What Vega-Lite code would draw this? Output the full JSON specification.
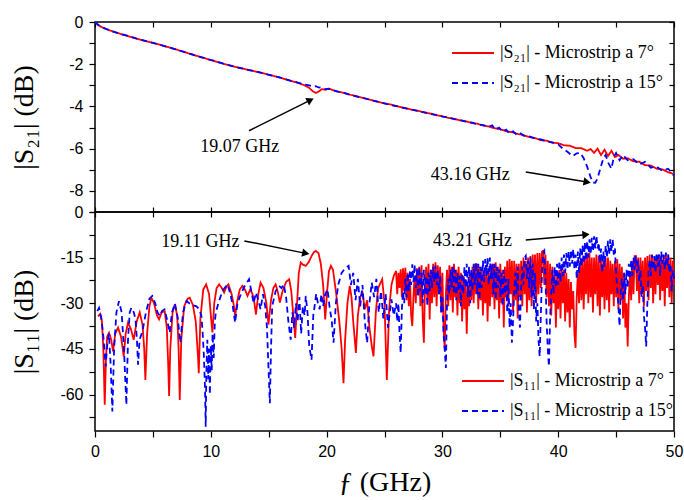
{
"$schema": "https://vega.github.io/schema/vega-lite/v6.json",
"padding": {"left": 9, "top": 13, "right": 5, "bottom": 0},
"background": "white",
"spacing": 0,
"bounds": "flush",
"datasets": {
"s21r": [{"f":0,"v":0},{"f":0.3,"v":-0.15},{"f":0.6,"v":-0.25},{"f":1,"v":-0.34},{"f":1.5,"v":-0.44},{"f":2,"v":-0.53},{"f":3,"v":-0.69},{"f":4,"v":-0.85},{"f":5,"v":-0.99},{"f":6,"v":-1.14},{"f":7,"v":-1.3},{"f":8,"v":-1.47},{"f":9,"v":-1.64},{"f":10,"v":-1.8},{"f":11,"v":-1.96},{"f":12,"v":-2.11},{"f":13,"v":-2.24},{"f":14,"v":-2.36},{"f":15,"v":-2.5},{"f":16,"v":-2.64},{"f":17,"v":-2.8},{"f":17.6,"v":-2.9},{"f":18.1,"v":-3.0},{"f":18.5,"v":-3.12},{"f":18.8,"v":-3.28},{"f":19.07,"v":-3.36},{"f":19.3,"v":-3.3},{"f":19.6,"v":-3.18},{"f":19.9,"v":-3.21},{"f":20.2,"v":-3.16},{"f":20.6,"v":-3.24},{"f":21,"v":-3.3},{"f":21.5,"v":-3.36},{"f":22,"v":-3.44},{"f":23,"v":-3.58},{"f":24,"v":-3.72},{"f":25,"v":-3.86},{"f":25.5,"v":-3.9},{"f":26,"v":-3.98},{"f":26.5,"v":-4.05},{"f":27,"v":-4.1},{"f":27.5,"v":-4.17},{"f":28,"v":-4.22},{"f":28.5,"v":-4.3},{"f":29,"v":-4.34},{"f":29.5,"v":-4.42},{"f":30,"v":-4.46},{"f":30.5,"v":-4.54},{"f":31,"v":-4.58},{"f":31.5,"v":-4.66},{"f":32,"v":-4.7},{"f":32.5,"v":-4.78},{"f":33,"v":-4.82},{"f":33.5,"v":-4.9},{"f":34,"v":-4.95},{"f":34.5,"v":-5.03},{"f":35,"v":-5.08},{"f":35.5,"v":-5.17},{"f":36,"v":-5.22},{"f":36.5,"v":-5.3},{"f":37,"v":-5.36},{"f":37.5,"v":-5.45},{"f":38,"v":-5.5},{"f":38.5,"v":-5.6},{"f":39,"v":-5.62},{"f":39.5,"v":-5.72},{"f":40,"v":-5.74},{"f":40.5,"v":-5.84},{"f":41,"v":-5.86},{"f":41.5,"v":-5.97},{"f":42,"v":-5.98},{"f":42.5,"v":-6.1},{"f":42.8,"v":-6.02},{"f":43.1,"v":-6.2},{"f":43.4,"v":-6.0},{"f":43.7,"v":-6.3},{"f":44,"v":-6.05},{"f":44.3,"v":-6.35},{"f":44.6,"v":-6.1},{"f":44.9,"v":-6.4},{"f":45.2,"v":-6.3},{"f":45.6,"v":-6.48},{"f":46,"v":-6.45},{"f":46.5,"v":-6.6},{"f":47,"v":-6.62},{"f":47.5,"v":-6.78},{"f":48,"v":-6.8},{"f":48.5,"v":-6.95},{"f":49,"v":-6.98},{"f":49.5,"v":-7.12},{"f":50,"v":-7.2}],
"s21b": [{"f":0,"v":0},{"f":0.3,"v":-0.15},{"f":0.6,"v":-0.25},{"f":1,"v":-0.34},{"f":1.5,"v":-0.44},{"f":2,"v":-0.53},{"f":3,"v":-0.69},{"f":4,"v":-0.85},{"f":5,"v":-0.99},{"f":6,"v":-1.14},{"f":7,"v":-1.3},{"f":8,"v":-1.47},{"f":9,"v":-1.64},{"f":10,"v":-1.8},{"f":11,"v":-1.96},{"f":12,"v":-2.11},{"f":13,"v":-2.24},{"f":14,"v":-2.36},{"f":15,"v":-2.5},{"f":16,"v":-2.64},{"f":17,"v":-2.8},{"f":17.6,"v":-2.88},{"f":18.1,"v":-2.96},{"f":18.5,"v":-3.0},{"f":18.8,"v":-3.06},{"f":19.07,"v":-3.04},{"f":19.3,"v":-3.1},{"f":19.6,"v":-3.12},{"f":19.9,"v":-3.18},{"f":20.2,"v":-3.16},{"f":20.6,"v":-3.24},{"f":21,"v":-3.3},{"f":21.5,"v":-3.36},{"f":22,"v":-3.44},{"f":23,"v":-3.58},{"f":24,"v":-3.72},{"f":25,"v":-3.86},{"f":25.5,"v":-3.93},{"f":26,"v":-3.98},{"f":26.5,"v":-4.04},{"f":27,"v":-4.12},{"f":27.5,"v":-4.16},{"f":28,"v":-4.24},{"f":28.5,"v":-4.28},{"f":29,"v":-4.36},{"f":29.5,"v":-4.4},{"f":30,"v":-4.48},{"f":30.5,"v":-4.52},{"f":31,"v":-4.6},{"f":31.5,"v":-4.64},{"f":32,"v":-4.72},{"f":32.5,"v":-4.76},{"f":33,"v":-4.84},{"f":33.5,"v":-4.88},{"f":34,"v":-4.97},{"f":34.3,"v":-4.9},{"f":34.6,"v":-5.1},{"f":34.9,"v":-5.0},{"f":35.2,"v":-5.2},{"f":35.5,"v":-5.1},{"f":35.8,"v":-5.28},{"f":36.1,"v":-5.18},{"f":36.4,"v":-5.33},{"f":36.7,"v":-5.25},{"f":37,"v":-5.38},{"f":37.5,"v":-5.42},{"f":38,"v":-5.52},{"f":38.5,"v":-5.56},{"f":39,"v":-5.66},{"f":39.5,"v":-5.7},{"f":40,"v":-5.8},{"f":40.4,"v":-6.0},{"f":40.8,"v":-6.15},{"f":41.25,"v":-6.35},{"f":41.6,"v":-6.22},{"f":41.9,"v":-6.2},{"f":42.2,"v":-6.45},{"f":42.5,"v":-6.85},{"f":42.8,"v":-7.35},{"f":43.0,"v":-7.6},{"f":43.2,"v":-7.62},{"f":43.4,"v":-7.4},{"f":43.7,"v":-6.82},{"f":43.9,"v":-6.45},{"f":44.1,"v":-6.3},{"f":44.3,"v":-6.65},{"f":44.6,"v":-6.95},{"f":44.8,"v":-6.4},{"f":45.0,"v":-6.2},{"f":45.3,"v":-6.55},{"f":45.6,"v":-6.3},{"f":46,"v":-6.55},{"f":46.5,"v":-6.5},{"f":47,"v":-6.75},{"f":47.5,"v":-6.62},{"f":48,"v":-6.9},{"f":48.5,"v":-6.85},{"f":49,"v":-7.05},{"f":49.5,"v":-6.95},{"f":50,"v":-7.28}],
"s11r": [{"f":0.26,"v":-34.3},{"f":0.45,"v":-33.5},{"f":0.6,"v":-36},{"f":0.72,"v":-45},{"f":0.84,"v":-63.4},{"f":0.95,"v":-48},{"f":1.05,"v":-41},{"f":1.21,"v":-39.7},{"f":1.4,"v":-42},{"f":1.56,"v":-45.8},{"f":1.75,"v":-40},{"f":1.99,"v":-38},{"f":2.25,"v":-41},{"f":2.48,"v":-47.5},{"f":2.65,"v":-40},{"f":2.85,"v":-36.4},{"f":3.1,"v":-38.5},{"f":3.34,"v":-42},{"f":3.6,"v":-36},{"f":3.86,"v":-33},{"f":4.1,"v":-37},{"f":4.25,"v":-45},{"f":4.35,"v":-55.2},{"f":4.5,"v":-40},{"f":4.7,"v":-31},{"f":4.87,"v":-28.2},{"f":5.1,"v":-30},{"f":5.35,"v":-34},{"f":5.53,"v":-35.3},{"f":5.75,"v":-33},{"f":6.02,"v":-32.6},{"f":6.2,"v":-38},{"f":6.32,"v":-50},{"f":6.4,"v":-60.5},{"f":6.5,"v":-45},{"f":6.7,"v":-33},{"f":6.89,"v":-30.4},{"f":7.1,"v":-34},{"f":7.22,"v":-45},{"f":7.32,"v":-61.8},{"f":7.45,"v":-42},{"f":7.7,"v":-31},{"f":8.0,"v":-28.5},{"f":8.18,"v":-28.2},{"f":8.45,"v":-30.5},{"f":8.7,"v":-36},{"f":8.9,"v":-48},{"f":8.96,"v":-53},{"f":9.1,"v":-35},{"f":9.35,"v":-25.5},{"f":9.6,"v":-23.8},{"f":9.85,"v":-27},{"f":10.05,"v":-36},{"f":10.14,"v":-39.6},{"f":10.3,"v":-30},{"f":10.5,"v":-25},{"f":10.72,"v":-23.8},{"f":10.95,"v":-25},{"f":11.15,"v":-26.5},{"f":11.35,"v":-24.5},{"f":11.52,"v":-23.8},{"f":11.8,"v":-27},{"f":12.0,"v":-31},{"f":12.1,"v":-34.2},{"f":12.3,"v":-29},{"f":12.5,"v":-25.5},{"f":12.73,"v":-24.3},{"f":12.95,"v":-25.5},{"f":13.17,"v":-27.6},{"f":13.4,"v":-25.5},{"f":13.6,"v":-27},{"f":13.75,"v":-29.5},{"f":13.9,"v":-33.7},{"f":14.1,"v":-27},{"f":14.3,"v":-23.2},{"f":14.55,"v":-25},{"f":14.8,"v":-30},{"f":14.98,"v":-37},{"f":15.2,"v":-29},{"f":15.4,"v":-25},{"f":15.6,"v":-23.8},{"f":15.8,"v":-26.5},{"f":15.96,"v":-29.8},{"f":16.2,"v":-26},{"f":16.5,"v":-23},{"f":16.77,"v":-22.1},{"f":16.95,"v":-26},{"f":17.15,"v":-35},{"f":17.29,"v":-41.4},{"f":17.45,"v":-30},{"f":17.6,"v":-20},{"f":17.77,"v":-16.6},{"f":17.95,"v":-17.3},{"f":18.2,"v":-17.7},{"f":18.45,"v":-16.5},{"f":18.7,"v":-14.5},{"f":18.9,"v":-13.2},{"f":19.07,"v":-12.8},{"f":19.3,"v":-13.5},{"f":19.5,"v":-17},{"f":19.7,"v":-24},{"f":19.88,"v":-35.3},{"f":20.05,"v":-26},{"f":20.2,"v":-19.5},{"f":20.37,"v":-17.7},{"f":20.55,"v":-19},{"f":20.8,"v":-26},{"f":21.1,"v":-36},{"f":21.3,"v":-45},{"f":21.46,"v":-56.3},{"f":21.6,"v":-42},{"f":21.8,"v":-30},{"f":22.0,"v":-24.3},{"f":22.15,"v":-28},{"f":22.3,"v":-36},{"f":22.53,"v":-46.3},{"f":22.7,"v":-34},{"f":22.9,"v":-28},{"f":23.1,"v":-26.5},{"f":23.3,"v":-32},{"f":23.5,"v":-29},{"f":23.7,"v":-38},{"f":23.9,"v":-44},{"f":24.05,"v":-47.5},{"f":24.25,"v":-33},{"f":24.45,"v":-25},{"f":24.8,"v":-22.1},{"f":25.0,"v":-30},{"f":25.2,"v":-55.2},{"f":25.4,"v":-32},{"f":25.6,"v":-24},{"f":25.8,"v":-21},
{"f":26.0,"v":-19.4},{"f":26.1,"v":-27},{"f":26.2,"v":-20},{"f":26.3,"v":-25},{"f":26.4,"v":-18.8},{"f":26.5,"v":-28},{"f":26.6,"v":-18.5},{"f":26.7,"v":-26},{"f":26.8,"v":-18.3},{"f":26.9,"v":-29},{"f":27.0,"v":-20},{"f":27.1,"v":-31},{"f":27.2,"v":-22},{"f":27.3,"v":-34},{"f":27.4,"v":-37.5},{"f":27.5,"v":-28},{"f":27.6,"v":-21},{"f":27.7,"v":-30},{"f":27.8,"v":-18.5},{"f":27.9,"v":-27},{"f":28.0,"v":-18},{"f":28.1,"v":-31},{"f":28.2,"v":-17.5},{"f":28.3,"v":-35},{"f":28.4,"v":-43},{"f":28.5,"v":-24},{"f":28.6,"v":-18},{"f":28.7,"v":-29},{"f":28.8,"v":-17},{"f":28.9,"v":-35.3},{"f":29.0,"v":-19},{"f":29.1,"v":-30},{"f":29.2,"v":-17},{"f":29.3,"v":-28},{"f":29.4,"v":-16.5},{"f":29.5,"v":-31},{"f":29.6,"v":-17.5},{"f":29.7,"v":-27},{"f":29.8,"v":-18},{"f":29.9,"v":-33},{"f":30.0,"v":-20},{"f":30.1,"v":-38},{"f":30.2,"v":-45.3},{"f":30.3,"v":-27},{"f":30.4,"v":-19},{"f":30.5,"v":-31},{"f":30.6,"v":-17.5},{"f":30.7,"v":-29},{"f":30.8,"v":-18},{"f":30.9,"v":-33},{"f":31.0,"v":-17},{"f":31.1,"v":-28},{"f":31.2,"v":-19},{"f":31.3,"v":-34},{"f":31.4,"v":-18},{"f":31.5,"v":-30},{"f":31.6,"v":-20},{"f":31.7,"v":-36},{"f":31.8,"v":-21},{"f":31.9,"v":-32},{"f":32.0,"v":-22},{"f":32.1,"v":-40},{"f":32.2,"v":-24},{"f":32.3,"v":-31},{"f":32.4,"v":-20},{"f":32.5,"v":-29},{"f":32.6,"v":-18},{"f":32.7,"v":-30},{"f":32.8,"v":-17},{"f":32.9,"v":-27},{"f":33.0,"v":-17},{"f":33.1,"v":-32},{"f":33.2,"v":-18},{"f":33.3,"v":-29},{"f":33.4,"v":-19},{"f":33.5,"v":-34},{"f":33.6,"v":-20},{"f":33.7,"v":-30},{"f":33.8,"v":-18},{"f":33.9,"v":-36},{"f":34.0,"v":-19},{"f":34.1,"v":-31},{"f":34.2,"v":-17.5},{"f":34.3,"v":-28},{"f":34.4,"v":-17},{"f":34.5,"v":-32},{"f":34.6,"v":-16.5},{"f":34.7,"v":-29},{"f":34.8,"v":-18},{"f":34.9,"v":-35},{"f":35.0,"v":-17},{"f":35.1,"v":-30},{"f":35.2,"v":-19},{"f":35.3,"v":-38},{"f":35.4,"v":-18},{"f":35.5,"v":-28},{"f":35.6,"v":-16},{"f":35.7,"v":-31},{"f":35.8,"v":-15.5},{"f":35.9,"v":-27},{"f":36.0,"v":-16},{"f":36.1,"v":-33},{"f":36.2,"v":-16},{"f":36.3,"v":-29},{"f":36.4,"v":-17},{"f":36.5,"v":-35},{"f":36.6,"v":-17},{"f":36.7,"v":-28},{"f":36.8,"v":-16},{"f":36.9,"v":-31},{"f":37.0,"v":-15},{"f":37.1,"v":-27},{"f":37.2,"v":-16},{"f":37.3,"v":-33},{"f":37.4,"v":-15},{"f":37.5,"v":-29},{"f":37.6,"v":-14.5},{"f":37.7,"v":-31},{"f":37.8,"v":-14},{"f":37.9,"v":-26},{"f":38.0,"v":-14},{"f":38.1,"v":-30},{"f":38.2,"v":-13.5},{"f":38.3,"v":-27},{"f":38.4,"v":-13.5},{"f":38.5,"v":-25},{"f":38.6,"v":-13},{"f":38.7,"v":-12.8},{"f":38.8,"v":-24},{"f":38.9,"v":-14},{"f":39.0,"v":-28},{"f":39.1,"v":-16},{"f":39.2,"v":-31},{"f":39.3,"v":-17},{"f":39.4,"v":-34},{"f":39.5,"v":-18},{"f":39.6,"v":-30},{"f":39.7,"v":-20},{"f":39.8,"v":-38},{"f":39.9,"v":-21},{"f":40.0,"v":-32},{"f":40.1,"v":-19},{"f":40.2,"v":-35},{"f":40.3,"v":-18},{"f":40.4,"v":-30},{"f":40.5,"v":-19},{"f":40.6,"v":-36},{"f":40.7,"v":-20},{"f":40.8,"v":-33},{"f":40.9,"v":-22},{"f":41.0,"v":-38},{"f":41.1,"v":-23},{"f":41.2,"v":-32},{"f":41.3,"v":-26},{"f":41.4,"v":-40},{"f":41.5,"v":-44.7},{"f":41.6,"v":-28},{"f":41.7,"v":-20},{"f":41.8,"v":-30},{"f":41.9,"v":-16},{"f":42.0,"v":-29},{"f":42.1,"v":-15},{"f":42.2,"v":-32},{"f":42.3,"v":-15},{"f":42.4,"v":-27},{"f":42.5,"v":-14},{"f":42.6,"v":-30},{"f":42.7,"v":-13.3},{"f":42.8,"v":-28},{"f":42.9,"v":-15},{"f":43.0,"v":-33},{"f":43.1,"v":-15},{"f":43.2,"v":-27},{"f":43.3,"v":-14},{"f":43.4,"v":-31},{"f":43.5,"v":-14.5},{"f":43.6,"v":-34},{"f":43.7,"v":-15},{"f":43.8,"v":-28},{"f":43.9,"v":-16},{"f":44.0,"v":-32},{"f":44.1,"v":-15},{"f":44.2,"v":-29},{"f":44.3,"v":-15},{"f":44.4,"v":-33},{"f":44.5,"v":-16},{"f":44.6,"v":-27},{"f":44.7,"v":-17},{"f":44.8,"v":-31},{"f":44.9,"v":-16},{"f":45.0,"v":-28},{"f":45.1,"v":-15.5},{"f":45.2,"v":-32},{"f":45.3,"v":-17},{"f":45.4,"v":-29},{"f":45.5,"v":-18},{"f":45.6,"v":-35},{"f":45.7,"v":-20},{"f":45.8,"v":-38},{"f":45.9,"v":-30},{"f":46.0,"v":-44.2},{"f":46.1,"v":-28},{"f":46.2,"v":-20},{"f":46.3,"v":-29},{"f":46.4,"v":-16},{"f":46.5,"v":-27},{"f":46.6,"v":-14.5},{"f":46.7,"v":-14.4},{"f":46.8,"v":-26},{"f":46.9,"v":-15},{"f":47.0,"v":-30},{"f":47.1,"v":-15},{"f":47.2,"v":-27},{"f":47.3,"v":-16},{"f":47.4,"v":-31},{"f":47.5,"v":-15},{"f":47.6,"v":-26},{"f":47.7,"v":-14.5},{"f":47.8,"v":-29},{"f":47.9,"v":-14},{"f":48.0,"v":-25},{"f":48.1,"v":-14.5},{"f":48.2,"v":-30},{"f":48.3,"v":-15},{"f":48.4,"v":-27},{"f":48.5,"v":-14},{"f":48.6,"v":-24},{"f":48.7,"v":-14},{"f":48.8,"v":-29},{"f":48.9,"v":-15},{"f":49.0,"v":-26},{"f":49.1,"v":-14.5},{"f":49.2,"v":-31},{"f":49.3,"v":-14},{"f":49.4,"v":-25},{"f":49.5,"v":-14},{"f":49.6,"v":-28},{"f":49.7,"v":-15},{"f":49.8,"v":-30},{"f":49.9,"v":-16},{"f":50.0,"v":-24}],
"s11b": [{"f":0.2,"v":-32.6},{"f":0.35,"v":-31.5},{"f":0.55,"v":-35},{"f":0.75,"v":-42},{"f":0.92,"v":-50.8},{"f":1.05,"v":-44},{"f":1.2,"v":-40},{"f":1.35,"v":-50},{"f":1.5,"v":-65.6},{"f":1.65,"v":-45},{"f":1.85,"v":-33},{"f":2.07,"v":-29.3},{"f":2.3,"v":-33},{"f":2.5,"v":-45},{"f":2.71,"v":-63.4},{"f":2.85,"v":-42},{"f":3.0,"v":-33},{"f":3.14,"v":-31.5},{"f":3.35,"v":-33},{"f":3.5,"v":-35.3},{"f":3.62,"v":-42},{"f":3.72,"v":-50.2},{"f":3.85,"v":-42},{"f":4.1,"v":-39.2},{"f":4.4,"v":-33},{"f":4.7,"v":-28.5},{"f":4.95,"v":-27.6},{"f":5.2,"v":-30},{"f":5.4,"v":-33},{"f":5.6,"v":-34.2},{"f":5.8,"v":-32.5},{"f":6.0,"v":-32},{"f":6.2,"v":-35},{"f":6.45,"v":-39.7},{"f":6.65,"v":-33},{"f":6.9,"v":-30},{"f":7.15,"v":-35},{"f":7.37,"v":-43},{"f":7.6,"v":-33},{"f":7.9,"v":-29.3},{"f":8.3,"v":-30.5},{"f":8.76,"v":-31},{"f":9.0,"v":-32},{"f":9.19,"v":-34.2},{"f":9.3,"v":-40},{"f":9.4,"v":-47},{"f":9.5,"v":-58},{"f":9.56,"v":-70.6},{"f":9.62,"v":-52},{"f":9.7,"v":-42},{"f":9.78,"v":-55},{"f":9.85,"v":-45},{"f":9.92,"v":-60},{"f":10.0,"v":-44},{"f":10.08,"v":-52},{"f":10.15,"v":-40},{"f":10.25,"v":-48},{"f":10.35,"v":-36},{"f":10.43,"v":-33.1},{"f":10.65,"v":-30},{"f":10.86,"v":-27.6},{"f":11.1,"v":-25.5},{"f":11.44,"v":-23.8},{"f":11.7,"v":-27},{"f":11.9,"v":-31},{"f":12.1,"v":-36.4},{"f":12.3,"v":-30},{"f":12.6,"v":-27},{"f":12.9,"v":-24.5},{"f":13.3,"v":-22.1},{"f":13.5,"v":-26},{"f":13.7,"v":-30},{"f":13.9,"v":-26.5},{"f":14.1,"v":-29},{"f":14.3,"v":-32},{"f":14.5,"v":-27},{"f":14.7,"v":-31},{"f":14.85,"v":-38},{"f":14.95,"v":-48},{"f":15.1,"v":-62.9},{"f":15.2,"v":-45},{"f":15.3,"v":-31},{"f":15.6,"v":-26},{"f":15.9,"v":-24.3},{"f":16.1,"v":-25},{"f":16.3,"v":-23.8},{"f":16.5,"v":-28},{"f":16.7,"v":-36},{"f":16.9,"v":-42},{"f":17.05,"v":-33},{"f":17.2,"v":-38},{"f":17.35,"v":-30},{"f":17.5,"v":-36},{"f":17.65,"v":-28},{"f":17.8,"v":-40},{"f":17.95,"v":-31},{"f":18.1,"v":-34},{"f":18.2,"v":-27.6},{"f":18.35,"v":-33},{"f":18.5,"v":-44},{"f":18.7,"v":-48.6},{"f":18.85,"v":-34},{"f":19.0,"v":-30},{"f":19.1,"v":-26.9},{"f":19.25,"v":-30},{"f":19.4,"v":-32},{"f":19.55,"v":-27},{"f":19.7,"v":-31},{"f":19.88,"v":-27.1},{"f":20.08,"v":-25.4},{"f":20.25,"v":-31},{"f":20.45,"v":-35.9},{"f":20.6,"v":-43},{"f":20.8,"v":-30},{"f":21.0,"v":-24},{"f":21.3,"v":-20},{"f":21.6,"v":-18.5},{"f":21.9,"v":-17.7},{"f":22.1,"v":-24},{"f":22.3,"v":-20},{"f":22.5,"v":-29},{"f":22.7,"v":-22},{"f":22.9,"v":-31},{"f":23.1,"v":-24},{"f":23.3,"v":-36},{"f":23.5,"v":-43},{"f":23.7,"v":-30},{"f":23.9,"v":-23.2},{"f":24.1,"v":-28},{"f":24.3,"v":-22},{"f":24.5,"v":-33},{"f":24.7,"v":-26},{"f":24.9,"v":-35},{"f":25.1,"v":-27},{"f":25.3,"v":-38},{"f":25.6,"v":-28.7},{"f":25.8,"v":-34},
{"f":26.0,"v":-30},{"f":26.1,"v":-36},{"f":26.2,"v":-30},{"f":26.3,"v":-40},{"f":26.4,"v":-46.3},{"f":26.5,"v":-32},{"f":26.6,"v":-26},{"f":26.7,"v":-30},{"f":26.8,"v":-22},{"f":26.9,"v":-28},{"f":27.0,"v":-20},{"f":27.1,"v":-26},{"f":27.2,"v":-19},{"f":27.3,"v":-24},{"f":27.4,"v":-17.2},{"f":27.5,"v":-23},{"f":27.6,"v":-17.2},{"f":27.7,"v":-25},{"f":27.8,"v":-19},{"f":27.9,"v":-28},{"f":28.0,"v":-18},{"f":28.1,"v":-26},{"f":28.2,"v":-20},{"f":28.3,"v":-30},{"f":28.4,"v":-19},{"f":28.5,"v":-27},{"f":28.6,"v":-21},{"f":28.7,"v":-31},{"f":28.8,"v":-20},{"f":28.9,"v":-26},{"f":29.0,"v":-19},{"f":29.1,"v":-25},{"f":29.2,"v":-18},{"f":29.3,"v":-23},{"f":29.4,"v":-17.7},{"f":29.5,"v":-24},{"f":29.6,"v":-19},{"f":29.7,"v":-27},{"f":29.8,"v":-21},{"f":29.9,"v":-33},{"f":30.0,"v":-28},{"f":30.1,"v":-40},{"f":30.2,"v":-45},{"f":30.3,"v":-51.3},{"f":30.4,"v":-30},{"f":30.5,"v":-22},{"f":30.6,"v":-27},{"f":30.7,"v":-19},{"f":30.8,"v":-25},{"f":30.9,"v":-18},{"f":31.0,"v":-27},{"f":31.1,"v":-19},{"f":31.2,"v":-29},{"f":31.3,"v":-20},{"f":31.4,"v":-26},{"f":31.5,"v":-21},{"f":31.6,"v":-31},{"f":31.7,"v":-20},{"f":31.8,"v":-27},{"f":31.9,"v":-18},{"f":32.0,"v":-25},{"f":32.1,"v":-17},{"f":32.2,"v":-28},{"f":32.3,"v":-18},{"f":32.4,"v":-30},{"f":32.5,"v":-19},{"f":32.6,"v":-26},{"f":32.7,"v":-17},{"f":32.8,"v":-24},{"f":32.9,"v":-16.5},{"f":33.0,"v":-27},{"f":33.1,"v":-17},{"f":33.2,"v":-29},{"f":33.3,"v":-18},{"f":33.4,"v":-25},{"f":33.5,"v":-16},{"f":33.6,"v":-23},{"f":33.7,"v":-15.5},{"f":33.8,"v":-21},{"f":33.9,"v":-15},{"f":34.0,"v":-24},{"f":34.1,"v":-15},{"f":34.2,"v":-22},{"f":34.3,"v":-17},{"f":34.4,"v":-27},{"f":34.5,"v":-17},{"f":34.6,"v":-29},{"f":34.7,"v":-18},{"f":34.8,"v":-25},{"f":34.9,"v":-18.8},{"f":35.0,"v":-28},{"f":35.1,"v":-20},{"f":35.2,"v":-31},{"f":35.3,"v":-19},{"f":35.4,"v":-27},{"f":35.5,"v":-22},{"f":35.6,"v":-33},{"f":35.7,"v":-22},{"f":35.8,"v":-38},{"f":35.9,"v":-30},{"f":36.0,"v":-43},{"f":36.1,"v":-36},{"f":36.2,"v":-26},{"f":36.3,"v":-20},{"f":36.4,"v":-27},{"f":36.5,"v":-18},{"f":36.6,"v":-32},{"f":36.7,"v":-38},{"f":36.8,"v":-25},{"f":36.9,"v":-18},{"f":37.0,"v":-24},{"f":37.1,"v":-15},{"f":37.2,"v":-14.4},{"f":37.3,"v":-22},{"f":37.4,"v":-16},{"f":37.5,"v":-25},{"f":37.6,"v":-15},{"f":37.7,"v":-28},{"f":37.8,"v":-17},{"f":37.9,"v":-32},{"f":38.0,"v":-20},{"f":38.1,"v":-36},{"f":38.2,"v":-30},{"f":38.3,"v":-42},{"f":38.4,"v":-47.5},{"f":38.5,"v":-34},{"f":38.6,"v":-20},{"f":38.7,"v":-13.5},{"f":38.8,"v":-12.8},{"f":38.9,"v":-22},{"f":39.0,"v":-36},{"f":39.1,"v":-45},{"f":39.2,"v":-50.8},{"f":39.3,"v":-35},{"f":39.4,"v":-26},{"f":39.5,"v":-19},{"f":39.6,"v":-27},{"f":39.7,"v":-18},{"f":39.8,"v":-25},{"f":39.9,"v":-17},{"f":40.0,"v":-24},{"f":40.1,"v":-16},{"f":40.2,"v":-23},{"f":40.3,"v":-15},{"f":40.4,"v":-21},{"f":40.5,"v":-14},{"f":40.6,"v":-20},{"f":40.7,"v":-13.5},{"f":40.8,"v":-19},{"f":40.9,"v":-13},{"f":41.0,"v":-18},{"f":41.1,"v":-12.5},{"f":41.2,"v":-17},{"f":41.3,"v":-12.2},{"f":41.4,"v":-19},{"f":41.5,"v":-14},{"f":41.6,"v":-22},{"f":41.7,"v":-13},{"f":41.8,"v":-20},{"f":41.9,"v":-12},{"f":42.0,"v":-18},{"f":42.1,"v":-11},{"f":42.2,"v":-17},{"f":42.3,"v":-10},{"f":42.4,"v":-16},{"f":42.5,"v":-9.5},{"f":42.6,"v":-15},{"f":42.7,"v":-9},{"f":42.8,"v":-14},{"f":42.9,"v":-8.5},{"f":43.0,"v":-13},{"f":43.1,"v":-8},{"f":43.2,"v":-12},{"f":43.3,"v":-7.8},{"f":43.4,"v":-12},{"f":43.5,"v":-10},{"f":43.6,"v":-17},{"f":43.7,"v":-12},{"f":43.8,"v":-20},{"f":43.9,"v":-13},{"f":44.0,"v":-18},{"f":44.1,"v":-11},{"f":44.2,"v":-15},{"f":44.3,"v":-9.5},{"f":44.4,"v":-14},{"f":44.5,"v":-9},{"f":44.6,"v":-13},{"f":44.7,"v":-8.9},{"f":44.8,"v":-14},{"f":44.9,"v":-12},{"f":45.0,"v":-20},{"f":45.1,"v":-25},{"f":45.2,"v":-31},{"f":45.3,"v":-37.5},{"f":45.4,"v":-26},{"f":45.5,"v":-22},{"f":45.6,"v":-29},{"f":45.7,"v":-20},{"f":45.8,"v":-27},{"f":45.9,"v":-19},{"f":46.0,"v":-25},{"f":46.1,"v":-17},{"f":46.2,"v":-22},{"f":46.3,"v":-16},{"f":46.4,"v":-21},{"f":46.5,"v":-15},{"f":46.6,"v":-19},{"f":46.7,"v":-14.4},{"f":46.8,"v":-20},{"f":46.9,"v":-16},{"f":47.0,"v":-23},{"f":47.1,"v":-19},{"f":47.2,"v":-28},{"f":47.3,"v":-24},{"f":47.4,"v":-34},{"f":47.5,"v":-38},{"f":47.6,"v":-44.2},{"f":47.7,"v":-30},{"f":47.8,"v":-20},{"f":47.9,"v":-16},{"f":48.0,"v":-21},{"f":48.1,"v":-14},{"f":48.2,"v":-19},{"f":48.3,"v":-14.5},{"f":48.4,"v":-20},{"f":48.5,"v":-13.5},{"f":48.6,"v":-18},{"f":48.7,"v":-14},{"f":48.8,"v":-21},{"f":48.9,"v":-13},{"f":49.0,"v":-17},{"f":49.1,"v":-14},{"f":49.2,"v":-19},{"f":49.3,"v":-13.3},{"f":49.4,"v":-18},{"f":49.5,"v":-14},{"f":49.6,"v":-20},{"f":49.7,"v":-17},{"f":49.8,"v":-26},{"f":49.9,"v":-19},{"f":50.0,"v":-22}],
"ann21": [{"t":"19.07 GHz","f":12.5,"v":-5.9},{"t":"43.16 GHz","f":32.4,"v":-7.26}],
"arr21": [{"id":1,"f1":13.3,"v1":-5.15,"f2":18.6,"v2":-3.7},{"id":2,"f1":37.2,"v1":-7.1,"f2":42.5,"v2":-7.58}],
"ann11": [{"t":"19.11 GHz","f":9.1,"v":-9.9},{"t":"43.21 GHz","f":32.6,"v":-9.6}],
"arr11": [{"id":1,"f1":12.9,"v1":-9.5,"f2":18.2,"v2":-13.6},{"id":2,"f1":37.2,"v1":-9.2,"f2":42.4,"v2":-7.45}]
},
"resolve": {"scale": {"color": "independent", "strokeDash": "independent"}, "legend": {"color": "independent", "strokeDash": "independent"}},
"vconcat": [
{
"width": 579, "height": 190,
"resolve": {"axis": {"x": "independent", "y": "independent"}},
"layer": [
{"data": {"name": "s21r"}, "mark": {"type": "line", "strokeWidth": 1.8},
 "encoding": {
  "x": {"field": "f", "type": "quantitative", "scale": {"domain": [0, 50], "nice": false, "zero": false}, "axis": {"orient": "bottom", "values": [0,5,10,15,20,25,30,35,40,45,50], "labels": false, "tickSize": -5, "title": null, "minExtent": 0, "maxExtent": 0}},
  "y": {"field": "v", "type": "quantitative", "scale": {"domain": [-9, 0], "nice": false, "zero": false}, "axis": {"orient": "left", "values": [0,-1,-2,-3,-4,-5,-6,-7,-8,-9], "labelExpr": "datum.value % 2 == 0 ? (datum.value < 0 ? '-' : '') + abs(datum.value) : ''", "title": "|S₂₁| (dB)", "titleX": -57}},
  "color": {"datum": "7°", "type": "nominal", "scale": {"domain": ["7°", "15°"], "range": ["#ff0000", "#0000ff"]}, "legend": {"orient": "none", "legendX": 369, "legendY": 22, "title": null, "labelExpr": "'|S₂₁| - Microstrip a ' + datum.label"}},
  "strokeDash": {"datum": "7°", "type": "nominal", "scale": {"domain": ["7°", "15°"], "range": [[1, 0], [6, 4]]}, "legend": {"orient": "none", "legendX": 369, "legendY": 22, "title": null, "labelExpr": "'|S₂₁| - Microstrip a ' + datum.label"}}
 }},
{"data": {"name": "s21b"}, "mark": {"type": "line", "strokeWidth": 1.8},
 "encoding": {
  "x": {"field": "f", "type": "quantitative", "axis": null},
  "y": {"field": "v", "type": "quantitative", "axis": null},
  "color": {"datum": "15°", "type": "nominal"},
  "strokeDash": {"datum": "15°", "type": "nominal"}
 }},
{"data": {"name": "ann21"}, "mark": {"type": "text", "font": "Liberation Serif", "fontSize": 18, "color": "#000", "align": "center", "baseline": "middle"},
 "encoding": {
  "x": {"field": "f", "type": "quantitative", "axis": {"orient": "top", "values": [0,5,10,15,20,25,30,35,40,45,50], "labels": false, "tickSize": -5, "title": null, "minExtent": 0, "maxExtent": 0}},
  "y": {"field": "v", "type": "quantitative", "axis": {"orient": "right", "values": [0,-1,-2,-3,-4,-5,-6,-7,-8,-9], "labels": false, "tickSize": -5, "title": null, "minExtent": 0, "maxExtent": 0}},
  "text": {"field": "t"}
 }},
{"data": {"name": "arr21"}, "mark": {"type": "rule", "color": "#000", "strokeWidth": 1.5},
 "encoding": {
  "x": {"field": "f1", "type": "quantitative", "axis": null}, "x2": {"field": "f2"},
  "y": {"field": "v1", "type": "quantitative", "axis": null}, "y2": {"field": "v2"}
 }},
{"data": {"name": "arr21"}, "transform": [{"filter": "datum.id == 1"}], "mark": {"type": "point", "shape": "triangle-right", "filled": true, "color": "#000", "opacity": 1, "size": 70, "angle": 333},
 "encoding": {"x": {"field": "f2", "type": "quantitative", "axis": null}, "y": {"field": "v2", "type": "quantitative", "axis": null}}},
{"data": {"name": "arr21"}, "transform": [{"filter": "datum.id == 2"}], "mark": {"type": "point", "shape": "triangle-right", "filled": true, "color": "#000", "opacity": 1, "size": 70, "angle": 10},
 "encoding": {"x": {"field": "f2", "type": "quantitative", "axis": null}, "y": {"field": "v2", "type": "quantitative", "axis": null}}}
]
},
{
"width": 579, "height": 219,
"resolve": {"axis": {"x": "independent", "y": "independent"}},
"layer": [
{"data": {"name": "s11r"}, "mark": {"type": "line", "strokeWidth": 1.8},
 "encoding": {
  "x": {"field": "f", "type": "quantitative", "scale": {"domain": [0, 50], "nice": false, "zero": false}, "axis": {"orient": "bottom", "values": [0,5,10,15,20,25,30,35,40,45,50], "labelExpr": "datum.value % 10 == 0 ? datum.label : ''", "title": "ƒ (GHz)", "titleY": 37}},
  "y": {"field": "v", "type": "quantitative", "scale": {"domain": [-72, 0], "nice": false, "zero": false}, "axis": {"orient": "left", "values": [0,-7.5,-15,-22.5,-30,-37.5,-45,-52.5,-60,-67.5], "labelExpr": "datum.value % 15 == 0 ? (datum.value < 0 ? '-' : '') + abs(datum.value) : ''", "title": "|S₁₁| (dB)", "titleX": -57}},
  "color": {"datum": "7°", "type": "nominal", "scale": {"domain": ["7°", "15°"], "range": ["#ff0000", "#0000ff"]}, "legend": {"orient": "none", "legendX": 379, "legendY": 160, "title": null, "labelExpr": "'|S₁₁| - Microstrip a ' + datum.label"}},
  "strokeDash": {"datum": "7°", "type": "nominal", "scale": {"domain": ["7°", "15°"], "range": [[1, 0], [6, 4]]}, "legend": {"orient": "none", "legendX": 379, "legendY": 160, "title": null, "labelExpr": "'|S₁₁| - Microstrip a ' + datum.label"}}
 }},
{"data": {"name": "s11b"}, "mark": {"type": "line", "strokeWidth": 1.8},
 "encoding": {
  "x": {"field": "f", "type": "quantitative", "axis": null},
  "y": {"field": "v", "type": "quantitative", "axis": null},
  "color": {"datum": "15°", "type": "nominal"},
  "strokeDash": {"datum": "15°", "type": "nominal"}
 }},
{"data": {"name": "ann11"}, "mark": {"type": "text", "font": "Liberation Serif", "fontSize": 18, "color": "#000", "align": "center", "baseline": "middle"},
 "encoding": {
  "x": {"field": "f", "type": "quantitative", "axis": {"orient": "top", "values": [0,5,10,15,20,25,30,35,40,45,50], "labels": false, "tickSize": -5, "title": null, "minExtent": 0, "maxExtent": 0}},
  "y": {"field": "v", "type": "quantitative", "axis": {"orient": "right", "values": [0,-7.5,-15,-22.5,-30,-37.5,-45,-52.5,-60,-67.5], "labels": false, "tickSize": -5, "title": null, "minExtent": 0, "maxExtent": 0}},
  "text": {"field": "t"}
 }},
{"data": {"name": "arr11"}, "mark": {"type": "rule", "color": "#000", "strokeWidth": 1.5},
 "encoding": {
  "x": {"field": "f1", "type": "quantitative", "axis": null}, "x2": {"field": "f2"},
  "y": {"field": "v1", "type": "quantitative", "axis": null}, "y2": {"field": "v2"}
 }},
{"data": {"name": "arr11"}, "transform": [{"filter": "datum.id == 1"}], "mark": {"type": "point", "shape": "triangle-right", "filled": true, "color": "#000", "opacity": 1, "size": 70, "angle": 12},
 "encoding": {"x": {"field": "f2", "type": "quantitative", "axis": null}, "y": {"field": "v2", "type": "quantitative", "axis": null}}},
{"data": {"name": "arr11"}, "transform": [{"filter": "datum.id == 2"}], "mark": {"type": "point", "shape": "triangle-right", "filled": true, "color": "#000", "opacity": 1, "size": 70, "angle": 355},
 "encoding": {"x": {"field": "f2", "type": "quantitative", "axis": null}, "y": {"field": "v2", "type": "quantitative", "axis": null}}}
]
}
],
"config": {
 "concat": {"spacing": 0},
 "view": {"stroke": "#000", "strokeWidth": 1.5},
 "axis": {"domain": false, "grid": false, "minExtent": 0, "tickColor": "#000", "tickWidth": 1.2, "tickSize": 6, "labelPadding": 6, "labelFlush": false, "labelOverlap": false, "labelFont": "Liberation Sans", "labelFontSize": 16, "labelColor": "#000", "titleFont": "Liberation Serif", "titleFontSize": 28, "titleFontWeight": "normal", "titleColor": "#000"},
 "legend": {"padding": 0, "labelFont": "Liberation Serif", "labelFontSize": 18, "labelColor": "#000", "labelOffset": 18, "symbolType": "M-3,0H3", "symbolSize": 196, "symbolStrokeWidth": 2, "rowPadding": 12, "labelLimit": 400}
}
}
